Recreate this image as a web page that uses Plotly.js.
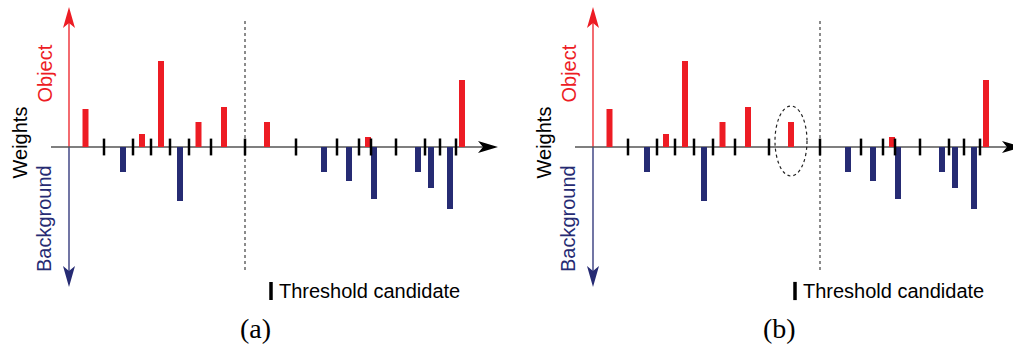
<!DOCTYPE html>
<html>
<head>
<meta charset="utf-8">
<script src="https://cdn.plot.ly/plotly-3.0.1.min.js"></script>
<style>html,body{margin:0;padding:0;background:#fff;}#chart{width:1013px;height:349px;}</style>
</head>
<body>
<div id="chart"></div>
<script>
// ---- data (positions along the threshold axis, weights) ----
const barPositions = [16.5, 54, 73, 92, 111, 129.5, 155, 198, 255, 280, 299, 305, 349, 362, 381, 393];
const barWeights   = [38, -25, 13, 86, -54, 25, 40, 25, -25, -34, 10, -52, -25, -41, -62, 67];
const thresholdCandidates = [35, 64, 82, 101, 120, 142, 176, 227, 268, 290, 302, 327, 356, 371, 387];
const splitIndexA = 6;   // chosen threshold in (a)
const splitIndexB = 7;   // chosen threshold in (b)
const circledBar = 7;    // bar highlighted in (b)
const panelLabels = ["(a)", "(b)"];
const axisTexts = {object: "Object", weights: "Weights", background: "Background", legend: "Threshold candidate"};

const RED = "#ED1C24", BLUE = "#262B73", BLACK = "#000000";

function barTraces(xa, ya) {
  const redX = [], redY = [], blueX = [], blueY = [];
  barPositions.forEach((p, i) => {
    if (barWeights[i] >= 0) { redX.push(p); redY.push(barWeights[i]); }
    else { blueX.push(p); blueY.push(barWeights[i]); }
  });
  return [
    {type: "bar", x: redX, y: redY, width: 6, marker: {color: RED, line: {width: 0}}, xaxis: xa, yaxis: ya, showlegend: false, hoverinfo: "skip"},
    {type: "bar", x: blueX, y: blueY, width: 6, marker: {color: BLUE, line: {width: 0}}, xaxis: xa, yaxis: ya, showlegend: false, hoverinfo: "skip"},
    {type: "scatter", mode: "markers", x: thresholdCandidates, y: thresholdCandidates.map(() => 0),
     marker: {symbol: "line-ns", size: 12, line: {width: 2.5, color: BLACK}}, xaxis: xa, yaxis: ya, showlegend: false, hoverinfo: "skip"},
    {type: "scatter", mode: "markers", x: [202], y: [-144],
     marker: {symbol: "line-ns", size: 13, line: {width: 3.5, color: BLACK}}, xaxis: xa, yaxis: ya, showlegend: false, hoverinfo: "skip"}
  ];
}

const data = [].concat(barTraces("x", "y"), barTraces("x2", "y"));

function panelShapes(xr, splitX) {
  const s = [];
  // vertical weight arrows
  s.push({type: "line", xref: xr, yref: "y", x0: 0, x1: 0, y0: 0, y1: 125, line: {color: RED, width: 1.3}, layer: "below"});
  s.push({type: "path", xref: xr, yref: "y", path: "M 0,140 L 6,119 L 0,124 L -6,119 Z", fillcolor: RED, line: {width: 0}});
  s.push({type: "line", xref: xr, yref: "y", x0: 0, x1: 0, y0: 0, y1: -125, line: {color: BLUE, width: 1.3}, layer: "below"});
  s.push({type: "path", xref: xr, yref: "y", path: "M 0,-140 L 6,-119 L 0,-124 L -6,-119 Z", fillcolor: BLUE, line: {width: 0}});
  // horizontal axis
  s.push({type: "line", xref: xr, yref: "y", x0: -18, x1: 418, y0: 0, y1: 0, line: {color: "#555555", width: 1.6}, layer: "below"});
  s.push({type: "path", xref: xr, yref: "y", path: "M 429,0 L 409,6 L 414,0 L 409,-6 Z", fillcolor: BLACK, line: {width: 0}});
  // chosen split (dotted vertical)
  s.push({type: "line", xref: xr, yref: "y", x0: splitX, x1: splitX, y0: 126, y1: -126, line: {color: "#666666", width: 1.5, dash: "dot"}, layer: "below"});
  return s;
}

const shapes = [].concat(
  panelShapes("x", thresholdCandidates[splitIndexA]),
  panelShapes("x2", thresholdCandidates[splitIndexB]),
  [{type: "circle", xref: "x2", yref: "y", x0: barPositions[circledBar] - 16, x1: barPositions[circledBar] + 16, y0: -29, y1: 41,
    line: {color: "#222222", width: 1.2, dash: "dot"}}]
);

function panelAnnotations(xr, label) {
  const f = "Liberation Sans, Arial, sans-serif";
  return [
    {xref: xr, yref: "y", x: -25, y: 73.5, text: axisTexts.object, textangle: -90, showarrow: false, font: {family: f, size: 20, color: RED}},
    {xref: xr, yref: "y", x: -50, y: 4.5, text: axisTexts.weights, textangle: -90, showarrow: false, font: {family: f, size: 20, color: BLACK}},
    {xref: xr, yref: "y", x: -25, y: -72, text: axisTexts.background, textangle: -90, showarrow: false, font: {family: f, size: 20, color: BLUE}},
    {xref: xr, yref: "y", x: 208, y: -144, xanchor: "left", text: axisTexts.legend, showarrow: false, font: {family: f, size: 20, color: BLACK}},
    {xref: xr, yref: "y", x: 186, y: -181, text: label, showarrow: false, font: {family: "Liberation Serif, Times New Roman, serif", size: 28, color: BLACK}}
  ];
}

const layout = {
  width: 1013, height: 349,
  margin: {l: 0, r: 0, t: 0, b: 0},
  paper_bgcolor: "#ffffff", plot_bgcolor: "#ffffff",
  showlegend: false,
  barmode: "overlay",
  xaxis: {domain: [0, 0.5], range: [-69, 437.5], visible: false, fixedrange: true},
  xaxis2: {domain: [0.5, 1], range: [-86.5, 420], visible: false, fixedrange: true},
  yaxis: {domain: [0, 1], range: [-202, 147], visible: false, fixedrange: true},
  shapes: shapes,
  annotations: [].concat(panelAnnotations("x", panelLabels[0]), panelAnnotations("x2", panelLabels[1]))
};

Plotly.newPlot("chart", data, layout, {staticPlot: true, displayModeBar: false});
</script>
</body>
</html>
